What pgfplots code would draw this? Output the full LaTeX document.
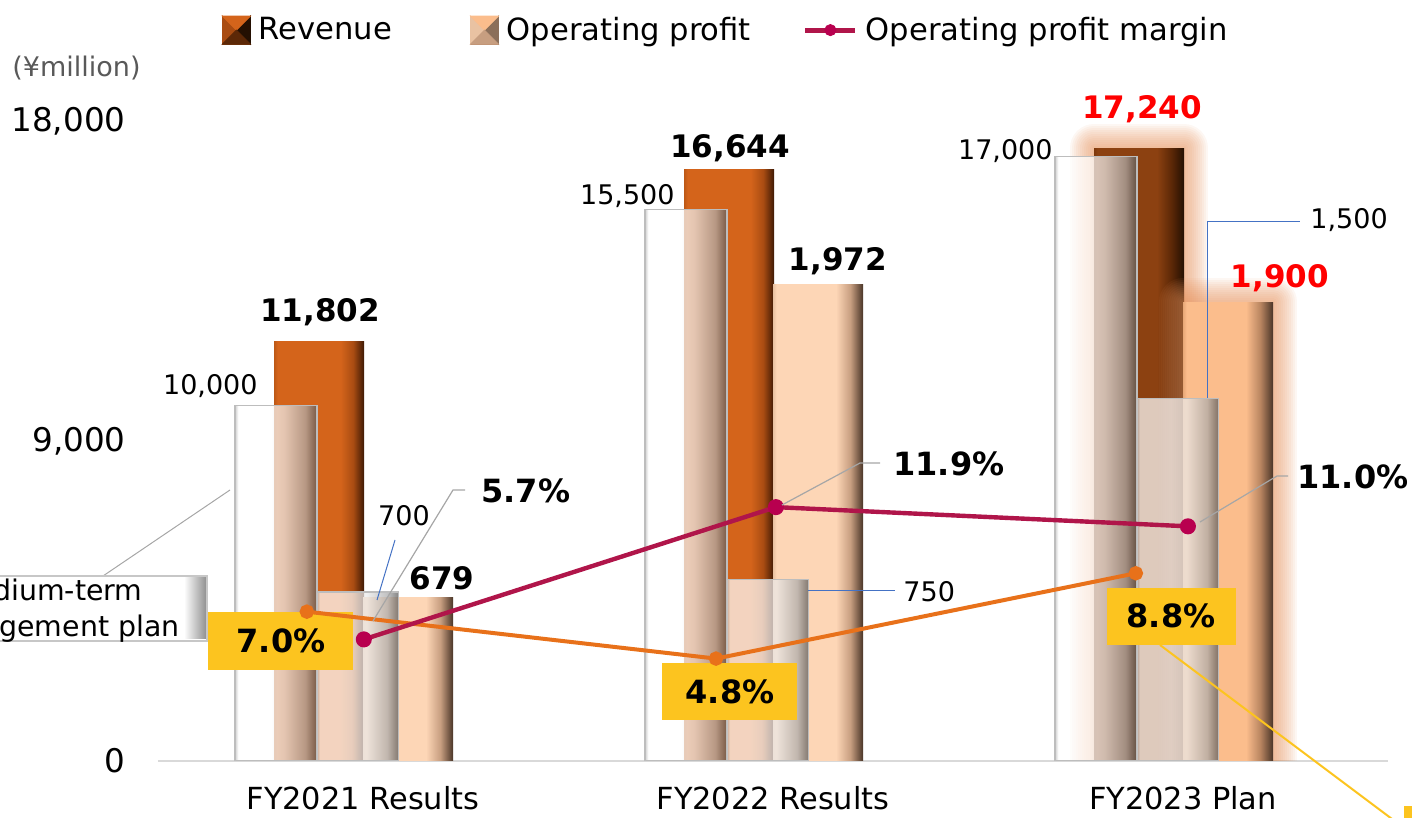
\documentclass[border=0pt]{standalone}
\usepackage{pgfplots}
\pgfplotsset{compat=1.18}
\usepackage{fontspec}
\setmainfont{DejaVu Sans}

\definecolor{revL}{HTML}{BC5816}
\definecolor{revC}{HTML}{D4641B}
\definecolor{revM}{HTML}{A94C12}
\definecolor{revD}{HTML}{3E1905}
\definecolor{rvbL}{HTML}{7E390D}
\definecolor{rvbC}{HTML}{8C4111}
\definecolor{rvbM}{HTML}{5C2807}
\definecolor{rvbD}{HTML}{241002}
\definecolor{opL}{HTML}{E9C2A2}
\definecolor{opC}{HTML}{FDD6B6}
\definecolor{opM}{HTML}{C79E80}
\definecolor{opD}{HTML}{4A3528}
\definecolor{opbC}{HTML}{FBBD8C}
\definecolor{opbL}{HTML}{E8A878}
\definecolor{opbM}{HTML}{B88460}
\definecolor{plE}{HTML}{BDBDBD}
\definecolor{plG}{HTML}{EBEBEB}
\definecolor{plM}{HTML}{ABABAB}
\definecolor{plD}{HTML}{555555}
\definecolor{glowC}{HTML}{E58F58}
\definecolor{crim}{HTML}{B0154A}
\definecolor{crimM}{HTML}{B8004F}
\definecolor{oraL}{HTML}{E8711A}
\definecolor{ybox}{HTML}{FCC41F}
\definecolor{blueL}{HTML}{4472C4}
\definecolor{greyL}{HTML}{A6A6A6}
\definecolor{txtG}{HTML}{595959}

\pgfdeclarehorizontalshading{revbar}{100bp}{color(0bp)=(revL); color(25bp)=(revL); color(27bp)=(revC); color(62bp)=(revC); color(69bp)=(revM); color(75bp)=(revD); color(100bp)=(revD)}
\pgfdeclarehorizontalshading{revbarB}{100bp}{color(0bp)=(rvbL); color(25bp)=(rvbL); color(27bp)=(rvbC); color(60bp)=(rvbC); color(68bp)=(rvbM); color(75bp)=(rvbD); color(100bp)=(rvbD)}
\pgfdeclarehorizontalshading{opbar}{100bp}{color(0bp)=(opL); color(25bp)=(opL); color(27bp)=(opC); color(60bp)=(opC); color(68bp)=(opM); color(75bp)=(opD); color(100bp)=(opD)}
\pgfdeclarehorizontalshading{opbarB}{100bp}{color(0bp)=(opbL); color(25bp)=(opbL); color(27bp)=(opbC); color(60bp)=(opbC); color(68bp)=(opbM); color(75bp)=(opD); color(100bp)=(opD)}
\pgfdeclarehorizontalshading{planbar}{100bp}{color(0bp)=(plE); color(25bp)=(plE); color(27bp)=(white); color(46bp)=(white); color(55bp)=(plG); color(68bp)=(plM); color(75bp)=(plD); color(100bp)=(plD)}

\def\bwA{0.2195}
\def\bwP{0.2}
\def\sR{-0.1073}
\def\sO{0.1098}
\def\sPR{-0.2122}
\def\sPO{-0.0134}

\pgfplotsset{
  base/.style={scale only axis, width=615pt, height=320pt, at={(79pt,28.5pt)}, anchor=south west, xmin=-0.5, xmax=2.5},
  glow/.style={ybar, fill=none, draw=glowC, line join=round, draw opacity=0.07},
}

\newcommand\fLab{\fontsize{13.5}{16}\selectfont}
\newcommand\fBold{\fontsize{15.5}{18}\selectfont\bfseries}
\newcommand\fPct{\fontsize{16}{19}\selectfont\bfseries}

\begin{document}
\begin{tikzpicture}
% ---------- primary axis: revenue (¥million) ----------
\begin{axis}[base, ymin=0, ymax=18000,
  scaled ticks=false,
  axis x line*=bottom, axis y line*=left,
  x axis line style={-, draw=black!15, line width=1pt},
  y axis line style={draw=none},
  tick style={draw=none},
  xtick={0,1,2}, xticklabels={FY2021 Results,FY2022 Results,FY2023 Plan},
  ytick={0,9000,18000}, yticklabels={0,{9,000},{18,000}},
  xticklabel style={font=\fontsize{15.2}{18}\selectfont, inner sep=0pt, anchor=north, yshift=-12.5pt},
  yticklabel style={font=\fontsize{16.3}{19}\selectfont, inner sep=0pt, anchor=east, xshift=-16pt},
]
% glow behind FY2023 revenue bar
\pgfplotsinvokeforeach{2,4,...,24}{
  \addplot[glow, bar width=\bwA, bar shift=\sR, line width=#1pt] coordinates {(2,17240)};
}
% actual revenue
\addplot[ybar, bar width=\bwA, bar shift=\sR, draw=none, shade, shading=revbar] coordinates {(0,11802)};
\addplot[ybar, bar width=\bwA, bar shift=\sR, draw=none, shade, shading=revbar] coordinates {(1,16644)};
\addplot[ybar, bar width=\bwA, bar shift=\sR, draw=none, shade, shading=revbarB] coordinates {(2,17240)};
% medium-term plan revenue
\addplot[ybar, bar width=\bwP, bar shift=\sPR, draw=plE, line width=0.6pt, shade, shading=planbar, fill opacity=0.72] coordinates {(0,10000)};
\addplot[ybar, bar width=\bwP, bar shift=\sPR, draw=plE, line width=0.6pt, shade, shading=planbar, fill opacity=0.72] coordinates {(1,15500)};
\addplot[ybar, bar width=\bwP, bar shift=\sPR, draw=plE, line width=0.6pt, shade, shading=planbar, fill opacity=0.72] coordinates {(2,17000)};
\end{axis}

% ---------- secondary axis: operating profit ----------
\begin{axis}[base, ymin=0, ymax=2650, hide axis]
\pgfplotsinvokeforeach{2,4,...,24}{
  \addplot[glow, bar width=\bwA, bar shift=\sO, line width=#1pt] coordinates {(2,1900)};
}
% actual operating profit
\addplot[ybar, bar width=\bwA, bar shift=\sO, draw=none, shade, shading=opbar] coordinates {(0,679)};
\addplot[ybar, bar width=\bwA, bar shift=\sO, draw=none, shade, shading=opbar] coordinates {(1,1972)};
\addplot[ybar, bar width=\bwA, bar shift=\sO, draw=none, shade, shading=opbarB] coordinates {(2,1900)};
% medium-term plan operating profit
\addplot[ybar, bar width=\bwP, bar shift=\sPO, draw=plE, line width=0.6pt, shade, shading=planbar, fill opacity=0.72] coordinates {(0,700)};
\addplot[ybar, bar width=\bwP, bar shift=\sPO, draw=plE, line width=0.6pt, shade, shading=planbar, fill opacity=0.72] coordinates {(1,750)};
\addplot[ybar, bar width=\bwP, bar shift=\sPO, draw=plE, line width=0.6pt, shade, shading=planbar, fill opacity=0.72] coordinates {(2,1500)};
\end{axis}

% ---------- yellow boxes for plan margin (under the lines) ----------
\begin{scope}[shift={(0pt,409pt)}, x=0.5pt, y=-0.5pt]
\fill[ybox] (208,612) rectangle (353,670);
\fill[ybox] (662,663) rectangle (797,720);
\fill[ybox] (1107,588) rectangle (1236,645);
\node[font=\fPct] at (281,641) {7.0\%};
\node[font=\fPct] at (730,692) {4.8\%};
\node[font=\fPct] at (1171,616) {8.8\%};
\end{scope}

% ---------- margin axis ----------
\begin{axis}[base, ymin=0, ymax=30, hide axis,
  legend columns=3,
  legend cell align=left,
  legend style={at={(0.05203,1.142)}, anchor=west, draw=none, fill=none,
    inner sep=0pt, outer sep=0pt, font=\fontsize{15.3}{18}\selectfont,
    nodes={inner sep=0pt},
    /tikz/every odd column/.style={column sep=4pt},
    /tikz/every even column/.style={column sep=26pt}},
]
\addplot[oraL, line width=2pt, mark=*, mark size=2.6pt, mark options={fill=oraL, draw=oraL}, forget plot]
  coordinates {(-0.137,7.0) (0.861,4.8) (1.885,8.8)};
\addplot[crim, line width=2.2pt, mark=*, mark size=2.9pt, mark options={fill=crimM, draw=crimM}, forget plot]
  coordinates {(0.002,5.7) (1.007,11.9) (2.012,11.0)};
\addlegendimage{legend image code/.code={
  \fill[rvbC] (0pt,-7pt) rectangle (14pt,7pt);
  \fill[revM] (0pt,-7pt) -- (7pt,0pt) -- (0pt,7pt) -- cycle;
  \fill[rvbD] (14pt,-7pt) -- (7pt,0pt) -- (14pt,7pt) -- cycle;
  \fill[revC] (0pt,7pt) -- (7pt,0pt) -- (14pt,7pt) -- cycle;
  \fill[rvbM] (0pt,-7pt) -- (7pt,0pt) -- (14pt,-7pt) -- cycle;}}
\addlegendentry{Revenue}
\addlegendimage{legend image code/.code={
  \path (-13pt,0pt);
  \fill[opbM] (0pt,-7pt) rectangle (14pt,7pt);
  \fill[opL] (0pt,-7pt) -- (7pt,0pt) -- (0pt,7pt) -- cycle;
  \fill[opM!70!black] (14pt,-7pt) -- (7pt,0pt) -- (14pt,7pt) -- cycle;
  \fill[opbC] (0pt,7pt) -- (7pt,0pt) -- (14pt,7pt) -- cycle;
  \fill[opM] (0pt,-7pt) -- (7pt,0pt) -- (14pt,-7pt) -- cycle;}}
\addlegendentry{Operating profit}
\addlegendimage{legend image code/.code={
  \draw[crim, line width=2.5pt] (0pt,0pt) -- (25pt,0pt);
  \fill[crimM] (12.5pt,0pt) circle (2.8pt);}}
\addlegendentry{Operating profit margin}
\end{axis}

% ---------- annotations ----------
\begin{scope}[shift={(0pt,409pt)}, x=0.5pt, y=-0.5pt]
\node[font=\fLab, text=txtG, anchor=west, inner sep=0pt] at (12,68) {(¥million)};
% medium-term plan callout
\draw[greyL, line width=0.5pt] (103,576) -- (230,490);
\fill[white] (-100,576) rectangle (207,641);
\shade[left color=white, right color=black!45] (184,578) rectangle (207,639);
\draw[black!22, line width=0.6pt] (-100,576) rectangle (207,641);
\node[font=\fontsize{14.2}{18}\selectfont, anchor=base east, inner sep=0pt] at (143,601) {Medium-term};
\node[font=\fontsize{14.2}{18}\selectfont, anchor=base east, inner sep=0pt] at (180,637) {management plan};
% plan values
\node[font=\fLab, anchor=east, inner sep=0pt] at (258,386) {10,000};
\node[font=\fLab, anchor=east, inner sep=0pt] at (675,196) {15,500};
\node[font=\fLab, anchor=east, inner sep=0pt] at (1053,151) {17,000};
\draw[blueL, line width=0.5pt] (377,600) -- (395,540);
\node[font=\fLab, inner sep=0pt] at (404,516) {700};
\draw[blueL, line width=0.5pt] (808,591) -- (895,591);
\node[font=\fLab, anchor=west, inner sep=0pt] at (903,592) {750};
\draw[blueL, line width=0.5pt] (1207,398) -- (1207,222) -- (1300,222);
\node[font=\fLab, anchor=west, inner sep=0pt] at (1310,220) {1,500};
% actual values
\node[font=\fBold, inner sep=0pt] at (320,312) {11,802};
\node[font=\fBold, inner sep=0pt] at (730,148) {16,644};
\node[font=\fBold, inner sep=0pt, text=red] at (1142,109) {17,240};
\node[font=\fBold, inner sep=0pt] at (442,578) {679};
\node[font=\fBold, inner sep=0pt] at (838,261) {1,972};
\node[font=\fBold, inner sep=0pt, text=red] at (1280,278) {1,900};
% margin labels
\draw[greyL, line width=0.6pt] (373,621) -- (453,490) -- (465,490);
\node[font=\fPct, anchor=west, inner sep=0pt] at (481,491) {5.7\%};
\draw[greyL, line width=0.6pt] (782,505) -- (860,463) -- (880,463);
\node[font=\fPct, anchor=west, inner sep=0pt] at (893,464) {11.9\%};
\draw[greyL, line width=0.6pt] (1200,522) -- (1277,476) -- (1288,476);
\node[font=\fPct, anchor=west, inner sep=0pt] at (1297,477) {11.0\%};
% yellow pointer
\draw[ybox, line width=1pt] (1160,645) -- (1400,825);
\fill[ybox] (1404,806) rectangle (1414,820);
\end{scope}
\pgfresetboundingbox
\path[use as bounding box] (0pt,0pt) rectangle (706pt,409pt);
\end{tikzpicture}
\end{document}
